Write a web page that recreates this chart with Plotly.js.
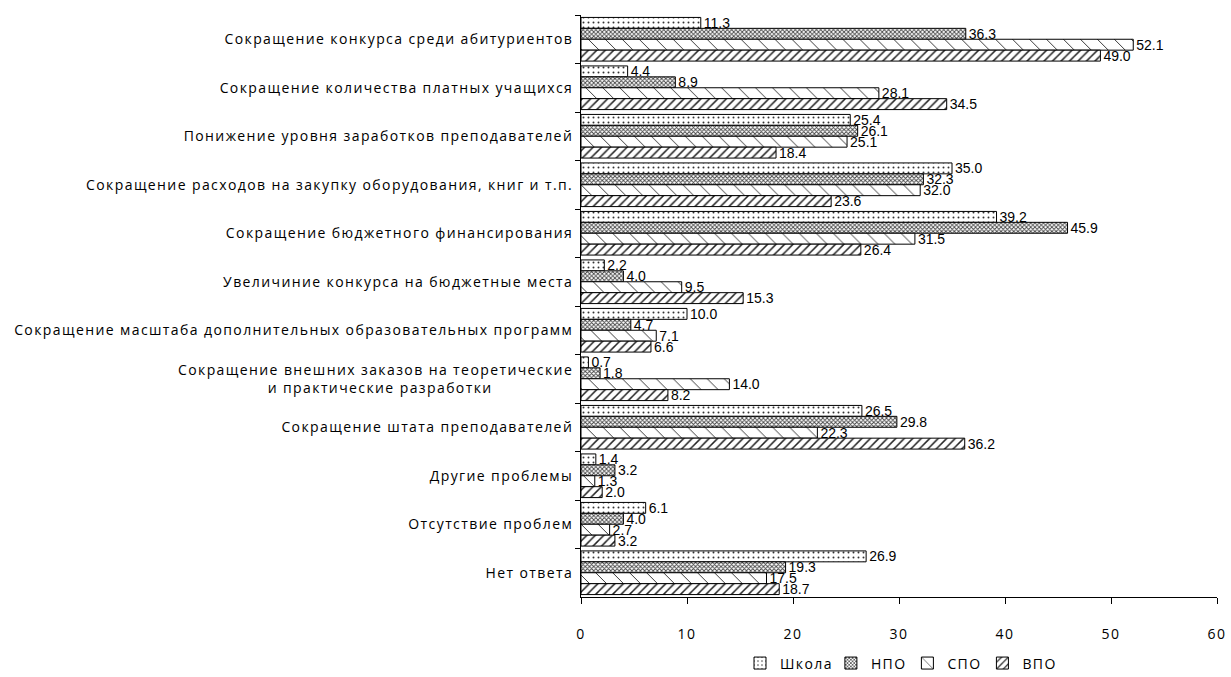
<!DOCTYPE html>
<html>
<head>
<meta charset="utf-8">
<script src="https://cdn.plot.ly/plotly-3.0.1.min.js"></script>
<style>
html,body{margin:0;padding:0;background:#fff;}
#chart{width:1231px;height:677px;}
#chart .ytick text, #chart .xtick text, #chart .legendtext {letter-spacing: 1.4px;}
</style>
</head>
<body>
<div id="chart"></div>
<script>
const categories = [
  "Сокращение конкурса среди абитуриентов",
  "Сокращение количества платных учащихся",
  "Понижение уровня заработков преподавателей",
  "Сокращение расходов на закупку оборудования, книг и т.п.",
  "Сокращение бюджетного финансирования",
  "Увеличиние конкурса на бюджетные места",
  "Сокращение масштаба дополнительных образовательных программ",
  "Сокращение внешних заказов на теоретические<br>и практические разработки" + "\u00a0".repeat(16),
  "Сокращение штата преподавателей",
  "Другие проблемы",
  "Отсутствие проблем",
  "Нет ответа"
];
const seriesNames = ["Школа", "НПО", "СПО", "ВПО"];
const shkola = [11.3, 4.4, 25.4, 35.0, 39.2, 2.2, 10.0, 0.7, 26.5, 1.4, 6.1, 26.9];
const npo    = [36.3, 8.9, 26.1, 32.3, 45.9, 4.0, 4.7, 1.8, 29.8, 3.2, 4.0, 19.3];
const spo    = [52.1, 28.1, 25.1, 32.0, 31.5, 9.5, 7.1, 14.0, 22.3, 1.3, 2.7, 17.5];
const vpo    = [49.0, 34.5, 18.4, 23.6, 26.4, 15.3, 6.6, 8.2, 36.2, 2.0, 3.2, 18.7];
const xTicks = [0, 10, 20, 30, 40, 50, 60];

const patterns = [
  {shape: ".", size: 5, solidity: 0.12, fgcolor: "#333", bgcolor: "#fff"},
  {shape: "x", size: 3, solidity: 0.5, fgcolor: "#444", bgcolor: "#fff"},
  {shape: "\\", size: 12, solidity: 0.08, fgcolor: "#333", bgcolor: "#fff"},
  {shape: "/", size: 6, solidity: 0.25, fgcolor: "#222", bgcolor: "#fff"}
];
const values = [shkola, npo, spo, vpo];

const traces = values.map((v, i) => ({
  type: "bar",
  orientation: "h",
  name: seriesNames[i],
  x: v,
  y: categories,
  text: v.map(d => d.toFixed(1)),
  textposition: "outside",
  constraintext: "none",
  cliponaxis: false,
  textfont: {family: "Liberation Sans Narrow, Liberation Sans, Arial", size: 14, color: "#000"},
  marker: {color: "#fff", line: {color: "#000", width: 1}, pattern: patterns[i]},
  hoverinfo: "x+name"
}));

const layout = {
  width: 1231, height: 677,
  margin: {l: 581, r: 14, t: 15, b: 80},
  paper_bgcolor: "#fff", plot_bgcolor: "#fff",
  barmode: "group", bargap: 0.1, bargroupgap: 0,
  font: {family: "Open Sans, DejaVu Sans, sans-serif", size: 14, color: "#000"},
  showlegend: true,
  legend: {orientation: "h", x: 0.5, xanchor: "center", yref: "container", y: 0.02, yanchor: "middle",
           font: {size: 14}, traceorder: "normal"},
  xaxis: {
    range: [0, 60], tickvals: xTicks, ticktext: xTicks.map(String),
    showgrid: false, zeroline: false, showline: true, linecolor: "#000", linewidth: 1,
    ticks: "outside", ticklen: 6, tickcolor: "#000", ticklabelstandoff: 18,
    tickfont: {size: 14}, fixedrange: true
  },
  yaxis: {
    autorange: "reversed", type: "category",
    showgrid: false, zeroline: false, showline: true, linecolor: "#000", linewidth: 1,
    ticks: "outside", ticklen: 5, tickcolor: "#000", tickson: "boundaries",
    tickfont: {size: 14}, ticklabelstandoff: 4, fixedrange: true
  }
};

Plotly.newPlot("chart", traces, layout, {displayModeBar: false, staticPlot: true});
</script>
</body>
</html>
